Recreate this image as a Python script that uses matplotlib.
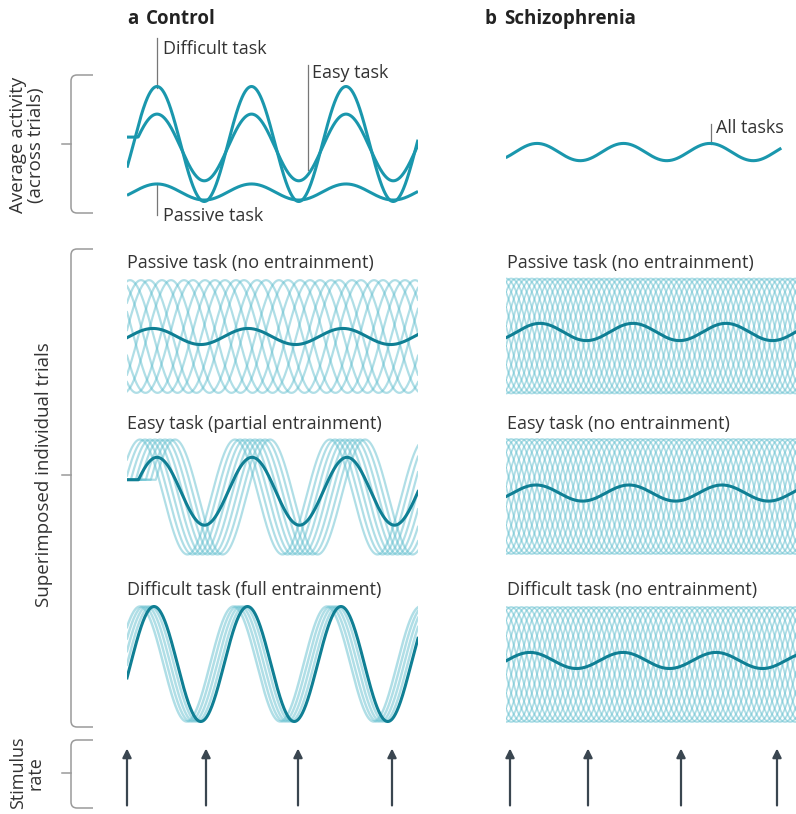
import numpy as np
import matplotlib
matplotlib.use("Agg")
import matplotlib.pyplot as plt
from matplotlib.path import Path
from matplotlib.patches import PathPatch

plt.rcParams['font.family'] = ['Open Sans', 'DejaVu Sans']

W, H = 796, 814
PXU = 57.5          # pixels per unit of activity

# ---- data (time in px-like units from each column's left edge) ----
period_ctrl = 94.5
period_scz = 93.0

# top row: average activity
top_ctrl_difficult = dict(center=0.0, amp=1.0, peak=30)
top_ctrl_easy = dict(center=-0.06, amp=0.58, peak=30, base=0.12)
top_ctrl_passive = dict(center=-0.835, amp=0.14, peak=30)
top_scz_all = dict(center=-0.14, amp=0.15, peak=31, period=86.5)

# control, individual trials (peak positions of each light trial)
ctrl_passive_peaks = [3, 14, 22, 35, 44, 57, 66, 78, 88]
ctrl_passive_mean = dict(center=0.0, amp=0.14, peak=26)
ctrl_easy_peaks = [13, 18, 23, 28, 33, 38, 43, 48]
ctrl_easy_base = 0.3
ctrl_easy_mean = dict(center=0.1, amp=0.59, peak=30, base=0.3)
ctrl_diff_peaks = [13, 16.5, 20, 23.5]
ctrl_diff_mean = dict(center=0.0, amp=1.0, peak=27)

# schizophrenia, individual trials: uniformly spread phases
scz_n_trials = 18
scz_means = [dict(center=0.07, amp=0.15, peak=34),
             dict(center=0.06, amp=0.14, peak=30),
             dict(center=0.07, amp=0.14, peak=24)]

# stimulus arrows
stim_ctrl = [0, 79, 171, 265]
stim_scz = [4, 82, 175, 271]

# ---- styles ----
TEAL = '#1a97ad'
DARK = '#0f7f94'
LIGHT = '#62bfcf'
GREY = '#9a9a9a'
TXT = '#333333'
ARROW = '#3a4650'
FS = 13


def wave(t, center, amp, peak, period, base=None):
    y = center + amp * np.cos(2 * np.pi * (t - peak) / period)
    if base is not None:
        s = peak - period / (2 * np.pi) * np.arccos((base - center) / amp)
        y = np.where(t < s, base, y)
    return y


fig = plt.figure(figsize=(W / 100, H / 100), dpi=100)
ov = fig.add_axes([0, 0, 1, 1])
ov.set_xlim(0, W)
ov.set_ylim(H, 0)
ov.axis('off')


def wave_axes(x0, x1, yc):
    h = 2 * 1.2 * PXU
    ax = fig.add_axes([x0 / W, 1 - (yc + h / 2) / H, (x1 - x0) / W, h / H])
    ax.set_xlim(0, x1 - x0)
    ax.set_ylim(-1.2, 1.2)
    ax.axis('off')
    return ax


# ---- top row ----
t = np.linspace(0, 291, 800)
ax = wave_axes(127, 418, 144)
for p in (top_ctrl_difficult, top_ctrl_easy, top_ctrl_passive):
    ax.plot(t, wave(t, period=period_ctrl, **p), color=TEAL, lw=2.2,
            solid_capstyle='butt')

ax = wave_axes(506, 796, 144)
ts = np.linspace(1, 274, 800)
ax.plot(ts, wave(ts, **top_scz_all), color=TEAL, lw=2.2)

# ---- control trials ----
ax = wave_axes(127, 418, 336.5)
for pk in ctrl_passive_peaks:
    ax.plot(t, wave(t, 0.0, 0.98, pk, 95), color=LIGHT, lw=1.6, alpha=0.5)
ax.plot(t, wave(t, period=95, **ctrl_passive_mean), color=DARK, lw=2.2)

ax = wave_axes(127, 418, 497)
for pk in ctrl_easy_peaks:
    ax.plot(t, wave(t, 0.0, 1.0, pk, 95, base=ctrl_easy_base), color=LIGHT,
            lw=1.6, alpha=0.5)
ax.plot(t, wave(t, period=95, **ctrl_easy_mean), color=DARK, lw=2.2)

ax = wave_axes(127, 418, 664)
for pk in ctrl_diff_peaks:
    ax.plot(t, wave(t, 0.0, 1.0, pk, 93.5), color=LIGHT, lw=1.8, alpha=0.5)
ax.plot(t, wave(t, period=93.5, **ctrl_diff_mean), color=DARK, lw=2.2)

# ---- schizophrenia trials ----
tr = np.linspace(0, 290, 1200)
for yc, m in zip([336, 496.5, 664.5], scz_means):
    ax = wave_axes(506, 796, yc)
    for k in range(scz_n_trials):
        ax.plot(tr, wave(tr, 0.0, 1.0, k * period_scz / scz_n_trials, period_scz),
                color=LIGHT, lw=1.3, alpha=0.5)
    ax.plot(tr, wave(tr, period=period_scz, **m), color=DARK, lw=2.2)

# ---- stimulus arrows ----
for x0, x1, stim in [(127, 418, stim_ctrl), (506, 796, stim_scz)]:
    ax = fig.add_axes([x0 / W, 1 - 808 / H, (x1 - x0) / W, 64 / H])
    ax.set_xlim(0, x1 - x0)
    ax.set_ylim(0, 1)
    ax.axis('off')
    for s in stim:
        ax.annotate('', xy=(s, 0.93), xytext=(s, 0.04),
                    arrowprops=dict(arrowstyle='-|>', color=ARROW, lw=1.6,
                                    mutation_scale=13, shrinkA=0, shrinkB=0),
                    annotation_clip=False)


# ---- brackets ----
def bracket(y0, y1, ym, x=71, x2=93, r=6):
    verts = [(x2, y0), (x + r, y0), (x, y0), (x, y0 + r), (x, y1 - r),
             (x, y1), (x + r, y1), (x2, y1)]
    codes = [Path.MOVETO, Path.LINETO, Path.CURVE3, Path.CURVE3, Path.LINETO,
             Path.CURVE3, Path.CURVE3, Path.LINETO]
    ov.add_patch(PathPatch(Path(verts, codes), fill=False, ec=GREY, lw=1.1))
    ov.plot([62, x], [ym, ym], color=GREY, lw=1.1)


bracket(75, 213, 144)
bracket(249, 727, 475)
bracket(740, 808, 773)

ov.text(27, 145, 'Average activity\n(across trials)', rotation=90, ha='center',
        va='center', fontsize=13.5, color=TXT, linespacing=1.0)
ov.text(44, 475, 'Superimposed individual trials', rotation=90, ha='center',
        va='center', fontsize=13.5, color=TXT)
ov.text(27, 773, 'Stimulus\nrate', rotation=90, ha='center', va='center',
        fontsize=13, color=TXT, linespacing=1.0)

# ---- titles ----
ov.text(127, 19, 'a', fontsize=13.5, fontweight='bold', color='#222222',
        va='center')
ov.text(146, 19, 'Control', fontsize=13.5, fontweight='bold', color='#222222',
        va='center')
ov.text(484, 19, 'b', fontsize=13.5, fontweight='bold', color='#222222',
        va='center')
ov.text(504, 19, 'Schizophrenia', fontsize=13.5, fontweight='bold',
        color='#222222', va='center')

# ---- leader labels ----
for x, ya, yb, tx, ty, s in [(157, 38, 88, 163, 49, 'Difficult task'),
                             (308, 65, 170, 312, 73, 'Easy task'),
                             (157, 185, 215, 163, 216, 'Passive task'),
                             (711, 124, 144, 716, 128, 'All tasks')]:
    ov.plot([x, x], [ya, yb], color='#777777', lw=0.9)
    ov.text(tx, ty, s, fontsize=FS, color=TXT, va='center')

# ---- panel labels ----
for x, y, s in [(127, 263, 'Passive task (no entrainment)'),
                (507, 263, 'Passive task (no entrainment)'),
                (127, 424, 'Easy task (partial entrainment)'),
                (507, 424, 'Easy task (no entrainment)'),
                (127, 590, 'Difficult task (full entrainment)'),
                (507, 590, 'Difficult task (no entrainment)')]:
    ov.text(x, y, s, fontsize=FS, color=TXT, va='center')

fig.savefig('out.png', dpi=100)
